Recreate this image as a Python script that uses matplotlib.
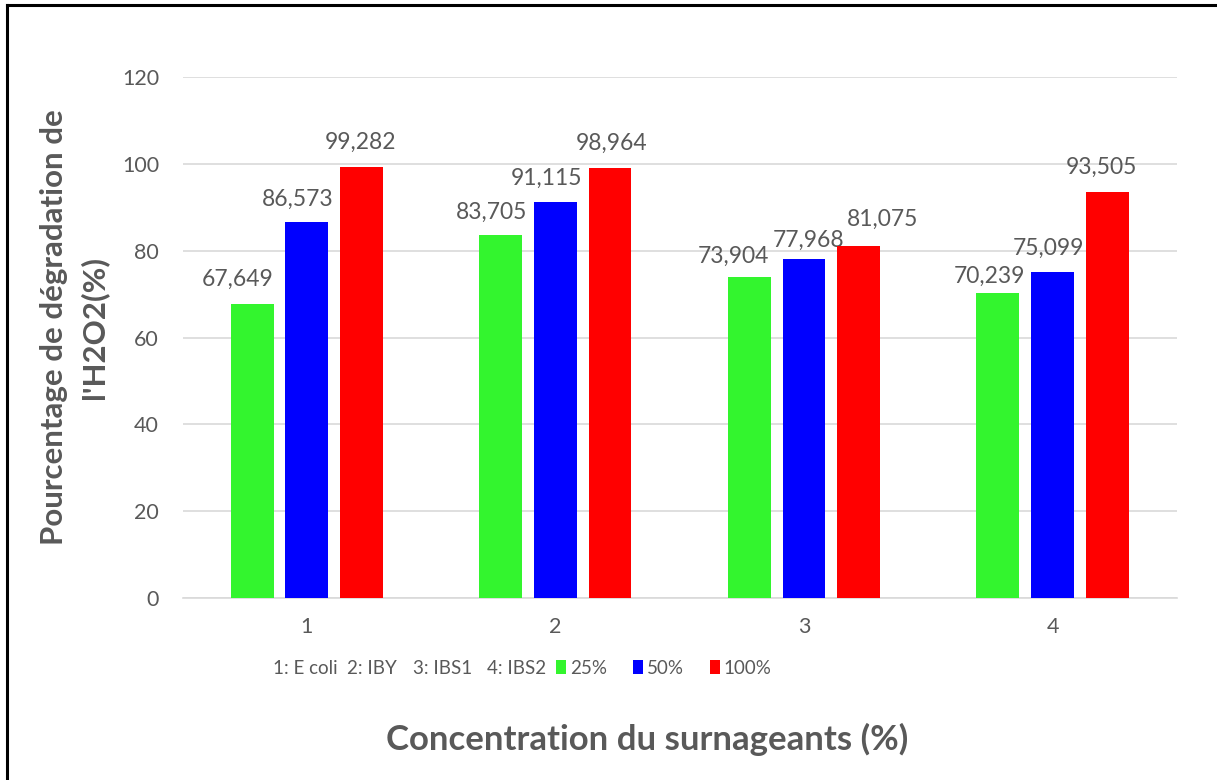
import matplotlib
matplotlib.use('Agg')
import matplotlib.pyplot as plt
import numpy as np
from matplotlib.lines import Line2D
from matplotlib.patches import Patch

# data
groups = ['1', '2', '3', '4']
series = ['25%', '50%', '100%']
vals_25 = [67.649, 83.705, 73.904, 70.239]
vals_50 = [86.573, 91.115, 77.968, 75.099]
vals_100 = [99.282, 98.964, 81.075, 93.505]
group_names = ['1: E coli', '2: IBY', '3: IBS1', '4: IBS2']

colors = ['#33f52e', '#0000ff', '#ff0000']
grey = '#595959'
plt.rcParams['font.family'] = ['Lato', 'DejaVu Sans']

fig = plt.figure(figsize=(12.17, 7.80), dpi=100)
ax = fig.add_axes([0.150, 0.2333, 0.817, 0.6680])

x = np.arange(1, len(groups) + 1)
width = 0.172
step = 0.22

# excel nudges some labels sideways / up to avoid overlap (pixels)
label_shift = [
    [(-15, 25), (-9, 22), (-16, 21), (-8, 17)],
    [(-9, 23), (-9, 24), (5, 19), (-4, 24)],
    [(-1, 25), (1, 25), (24, 27), (-6, 25)],
]

all_vals = [vals_25, vals_50, vals_100]
for i, vals in enumerate(all_vals):
    xs = x + (i - 1) * step
    ax.bar(xs, vals, width, color=colors[i], label=series[i], zorder=3)
    for j, v in enumerate(vals):
        dx, dy = label_shift[i][j]
        ax.annotate(f'{v:.3f}'.replace('.', ','), (xs[j], v),
                    xytext=(dx * 0.72, dy * 0.72), textcoords='offset points',
                    ha='center', va='center', fontsize=16.5, color=grey)

ax.set_xlim(0.5, 4.5)
ax.set_ylim(0, 120)
ax.set_yticks(range(0, 121, 20))
ax.set_xticks(x)
ax.set_xticklabels(groups)
ax.grid(axis='y', color='#d9d9d9', linewidth=1.2, zorder=0)
for s in ['top', 'right', 'left']:
    ax.spines[s].set_visible(False)
ax.spines['bottom'].set_color('#d9d9d9')
ax.spines['bottom'].set_linewidth(1.2)
ax.tick_params(axis='both', length=0, labelsize=15.5, labelcolor=grey)
ax.tick_params(axis='x', pad=14)
ax.tick_params(axis='y', pad=17)

ax.set_ylabel("Pourcentage de dégradation de\nl'H2O2(%)", fontsize=22.5,
              fontweight='bold', color=grey, linespacing=1.45)
ax.yaxis.set_label_coords(-0.075, 0.52)
fig.text(0.532, 0.052, 'Concentration du surnageants (%)', fontsize=25,
         fontweight='bold', color=grey, ha='center', va='center')

# legend: group names as plain text, then the three series
name_x = [305, 372, 443, 517]
for nx, name in zip(name_x, group_names):
    fig.text(nx / 1217, 1 - 668 / 780, name, fontsize=13.5, color=grey,
             ha='center', va='center')
handles = [Patch(facecolor=c) for c in colors]
fig.legend(handles, series, loc='center left',
           bbox_to_anchor=(556 / 1217, 1 - 668 / 780), ncol=3, frameon=False,
           fontsize=13.5, labelcolor=grey, borderpad=0, borderaxespad=0,
           handlelength=0.53, handleheight=0.7, handletextpad=0.2,
           columnspacing=1.4)

# outer frame (only top and left visible in the screenshot)
fig.add_artist(Line2D([7 / 1217, 7 / 1217], [0, 1 - 5 / 780], color='black',
                      linewidth=2.2, transform=fig.transFigure))
fig.add_artist(Line2D([7 / 1217, 1], [1 - 5 / 780, 1 - 5 / 780], color='black',
                      linewidth=2.2, transform=fig.transFigure))

fig.savefig('out.png', dpi=100, facecolor='white')
